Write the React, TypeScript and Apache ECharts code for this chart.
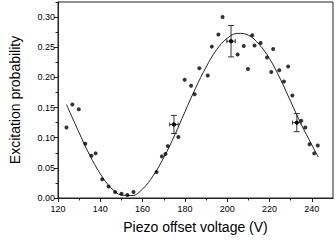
import React, { useEffect, useRef } from "react";
import * as echarts from "echarts";

const pointsX = [124.0, 126.8, 129.8, 132.9, 135.8, 137.8, 140.9, 143.9, 147.0, 150.0, 152.8, 155.7, 166.6, 169.1, 170.8, 171.9, 174.8, 176.9, 179.9, 182.9, 184.6, 186.8, 190.8, 192.7, 195.8, 197.8, 201.8, 204.9, 207.8, 209.8, 211.8, 212.9, 215.8, 218.8, 220.8, 221.7, 224.6, 226.8, 228.8, 230.8, 232.9, 235.0, 236.9, 238.9, 241.1, 242.8];
const pointsY = [0.117, 0.155, 0.147, 0.090, 0.070, 0.074, 0.031, 0.019, 0.010, 0.007, 0.005, 0.010, 0.043, 0.069, 0.073, 0.086, 0.122, 0.101, 0.196, 0.186, 0.172, 0.215, 0.203, 0.251, 0.271, 0.300, 0.260, 0.238, 0.252, 0.214, 0.270, 0.253, 0.257, 0.233, 0.209, 0.247, 0.212, 0.193, 0.218, 0.170, 0.125, 0.128, 0.117, 0.089, 0.074, 0.087];

const errX = [174.8, 201.8, 232.9];
const errY = [0.122, 0.260, 0.125];
const errDX = [2, 2, 2];
const errDY = [0.015, 0.026, 0.015];

const curveX = [124, 130, 135, 140, 145, 150, 155, 160, 165, 170, 175, 180, 185, 190, 195, 200, 205, 210, 215, 220, 225, 230, 235, 240, 243];
const curveY = [0.155, 0.108, 0.071, 0.040, 0.017, 0.005, 0.004, 0.015, 0.037, 0.067, 0.103, 0.143, 0.182, 0.217, 0.246, 0.265, 0.273, 0.270, 0.255, 0.231, 0.198, 0.160, 0.122, 0.088, 0.068];

const xTicks = [120, 140, 160, 180, 200, 220, 240];
const yTicks = [0, 0.05, 0.1, 0.15, 0.2, 0.25, 0.3];

const FONT = "'Liberation Sans', Arial, sans-serif";

export default function App() {
  const ref = useRef<HTMLDivElement>(null);
  useEffect(() => {
    if (!ref.current) return;
    const chart = echarts.init(ref.current, undefined, { renderer: "svg" });
    const errData = errX.map((x, i) => [x, errY[i], errDX[i], errDY[i]]);
    chart.setOption({
      animation: false,
      textStyle: { fontFamily: FONT },
      grid: {
        left: 52,
        right: 3,
        top: 2,
        bottom: 44,
        show: true,
        borderColor: "#222",
        borderWidth: 1,
        backgroundColor: "transparent",
      },
      xAxis: {
        type: "value",
        min: 120,
        max: 250,
        interval: 20,
        name: "Piezo offset voltage (V)",
        nameLocation: "middle",
        nameGap: 22,
        nameTextStyle: { fontSize: 14, color: "#000", fontFamily: FONT },
        axisLine: { show: true, lineStyle: { color: "#222", width: 1 } },
        axisTick: { show: true, inside: false, length: 4, lineStyle: { color: "#222" }, customValues: xTicks },
        minorTick: { show: true, splitNumber: 2, length: 2.5, lineStyle: { color: "#222" } },
        axisLabel: { fontSize: 9, color: "#000", margin: 6, fontFamily: FONT, customValues: xTicks },
        splitLine: { show: false },
      },
      yAxis: {
        type: "value",
        min: 0,
        max: 0.325,
        interval: 0.05,
        name: "Excitation probability",
        nameLocation: "middle",
        nameGap: 36,
        nameTextStyle: { fontSize: 14, color: "#000", fontFamily: FONT },
        axisLine: { show: true, lineStyle: { color: "#222", width: 1 } },
        axisTick: { show: true, inside: false, length: 4, lineStyle: { color: "#222" }, customValues: yTicks },
        minorTick: { show: true, splitNumber: 2, length: 2.5, lineStyle: { color: "#222" } },
        axisLabel: {
          fontSize: 9,
          color: "#000",
          margin: 3,
          fontFamily: FONT,
          customValues: yTicks,
          formatter: (v: number) => v.toFixed(2),
        },
        splitLine: { show: false },
      },
      series: [
        {
          type: "line",
          data: curveX.map((x, i) => [x, curveY[i]]),
          smooth: 0.4,
          showSymbol: false,
          lineStyle: { color: "#222", width: 1 },
          z: 2,
        },
        {
          type: "scatter",
          data: pointsX.map((x, i) => [x, pointsY[i]]),
          symbolSize: 4,
          itemStyle: { color: "#000" },
          z: 3,
        },
        {
          type: "custom",
          data: errData,
          z: 4,
          renderItem: (params: any, api: any) => {
            const x = api.value(0);
            const y = api.value(1);
            const dx = api.value(2);
            const dy = api.value(3);
            const top = api.coord([x, y + dy]);
            const bot = api.coord([x, y - dy]);
            const left = api.coord([x - dx, y]);
            const right = api.coord([x + dx, y]);
            const c = api.coord([x, y]);
            const st = { stroke: "#333", lineWidth: 1 };
            const cw = 3;
            const ch = 2;
            return {
              type: "group",
              children: [
                { type: "line", shape: { x1: top[0], y1: top[1], x2: bot[0], y2: bot[1] }, style: st },
                { type: "line", shape: { x1: top[0] - cw, y1: top[1], x2: top[0] + cw, y2: top[1] }, style: st },
                { type: "line", shape: { x1: bot[0] - cw, y1: bot[1], x2: bot[0] + cw, y2: bot[1] }, style: st },
                { type: "line", shape: { x1: left[0], y1: left[1], x2: right[0], y2: right[1] }, style: st },
                { type: "line", shape: { x1: left[0], y1: left[1] - ch, x2: left[0], y2: left[1] + ch }, style: st },
                { type: "line", shape: { x1: right[0], y1: right[1] - ch, x2: right[0], y2: right[1] + ch }, style: st },
                { type: "circle", shape: { cx: c[0], cy: c[1], r: 2 }, style: { fill: "#000" } },
              ],
            };
          },
        },
      ],
    });
    return () => chart.dispose();
  }, []);
  return <div ref={ref} style={{ width: 336, height: 242, position: "absolute", left: 0, top: 0, background: "#fff" }} />;
}
